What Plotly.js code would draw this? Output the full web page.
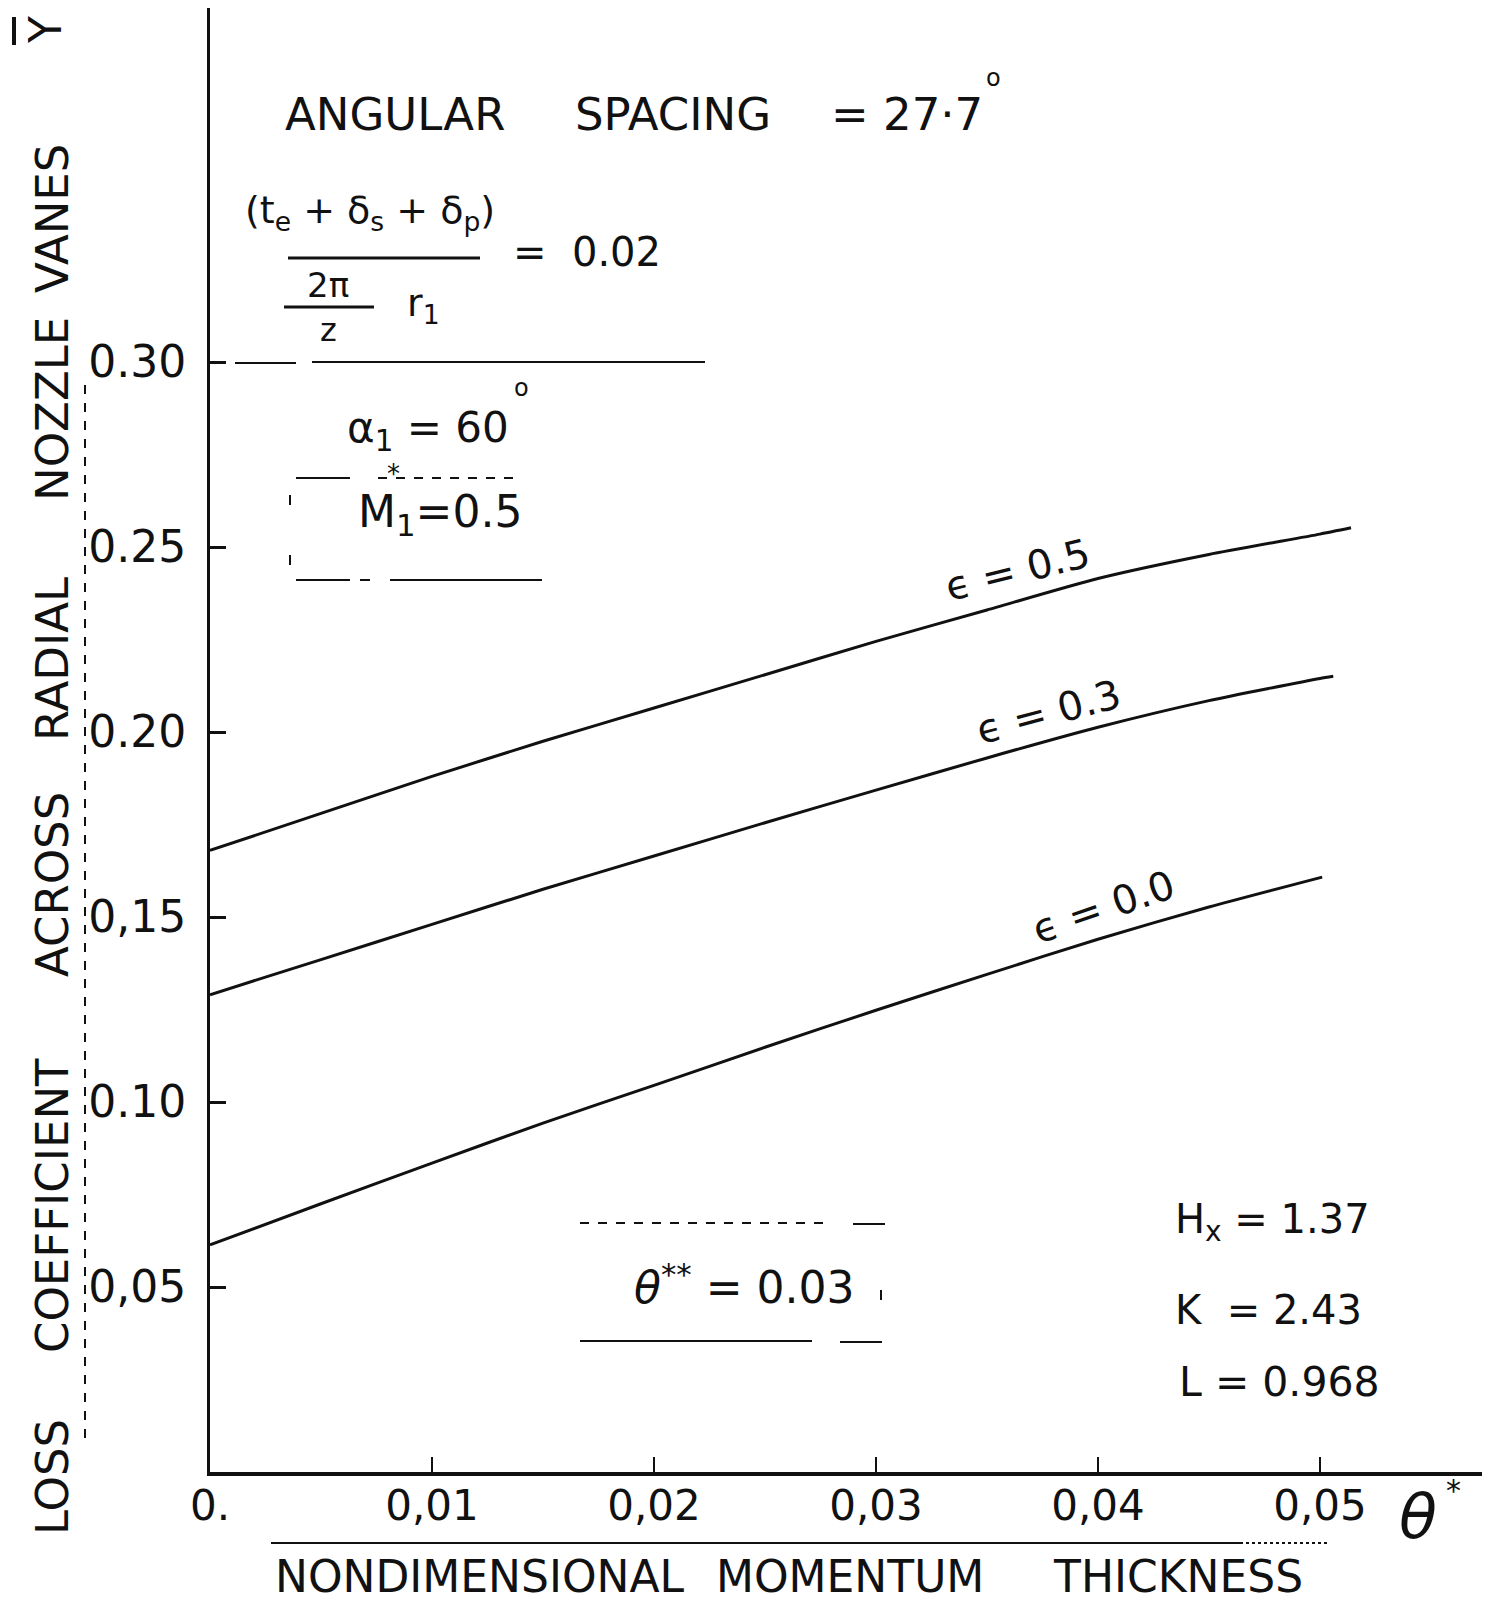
<!DOCTYPE html>
<html>
<head>
<meta charset="utf-8">
<script src="https://cdn.plot.ly/plotly-3.0.1.min.js"></script>
<style>
  html, body { margin: 0; padding: 0; background: #fff; }
  #chart { width: 1493px; height: 1602px; }
</style>
</head>
<body>
<div id="chart"></div>
<script>
// ---------------- data ----------------
const thetaX05 = [0, 0.005, 0.01, 0.015, 0.02, 0.025, 0.03, 0.035, 0.04, 0.045, 0.05, 0.0514];
const lossEps05 = [0.168, 0.178, 0.188, 0.1975, 0.2065, 0.2155, 0.2245, 0.233, 0.2415, 0.248, 0.2535, 0.2552];

const thetaX03 = [0, 0.005, 0.01, 0.015, 0.02, 0.025, 0.03, 0.035, 0.04, 0.045, 0.05, 0.0506];
const lossEps03 = [0.129, 0.1385, 0.148, 0.1575, 0.1665, 0.1755, 0.1843, 0.193, 0.2013, 0.2085, 0.2145, 0.2151];

const thetaX00 = [0, 0.005, 0.01, 0.015, 0.02, 0.025, 0.03, 0.035, 0.04, 0.045, 0.0501];
const lossEps00 = [0.0614, 0.0725, 0.0835, 0.0943, 0.1045, 0.1148, 0.1248, 0.1345, 0.1440, 0.1527, 0.1608];

const seriesLabels = ["\u03F5 = 0.5", "\u03F5 = 0.3", "\u03F5 = 0.0"];

const xTickVals = [0, 0.01, 0.02, 0.03, 0.04, 0.05];
const xTickText = ["0.", "0,01", "0,02", "0,03", "0,04", "0,05"];
const yTickVals = [0.05, 0.10, 0.15, 0.20, 0.25, 0.30];
const yTickText = ["0,05", "0.10", "0,15", "0.20", "0.25", "0.30"];

const yTitleWords = ["LOSS", "COEFFICIENT", "ACROSS", "RADIAL", "NOZZLE", "VANES"];
const xTitleWords = ["NONDIMENSIONAL", "MOMENTUM", "THICKNESS"];

// ---------------- layout helpers ----------------
const W = 1493, H = 1602;
const L = 210, R = 1482, T = 8, B = 1472;
const px = x => (x - L) / (R - L);
const py = y => (B - y) / (B - T);
const FONT = "DejaVu Sans, Liberation Sans, sans-serif";
const INK = "#111";

function ann(x, y, text, size, extra) {
  return Object.assign({
    xref: "paper", yref: "paper", x: px(x), y: py(y), text: text,
    showarrow: false, xanchor: "center", yanchor: "middle",
    font: { family: FONT, size: size, color: INK }
  }, extra || {});
}
function pline(x0, y0, x1, y1, w, dash) {
  return { type: "line", xref: "paper", yref: "paper",
    x0: px(x0), y0: py(y0), x1: px(x1), y1: py(y1),
    line: { color: INK, width: w || 2, dash: dash || "solid" } };
}

const lineStyle = { color: INK, width: 3, shape: "spline", smoothing: 0.6 };
const traces = [
  { x: thetaX05, y: lossEps05, name: seriesLabels[0], mode: "lines", line: lineStyle, hoverinfo: "skip" },
  { x: thetaX03, y: lossEps03, name: seriesLabels[1], mode: "lines", line: lineStyle, hoverinfo: "skip" },
  { x: thetaX00, y: lossEps00, name: seriesLabels[2], mode: "lines", line: lineStyle, hoverinfo: "skip" }
];

const yWordPos = [1477, 1206, 885, 659, 409, 219];
const xWordPos = [480, 850, 1178];

const annotations = [];
yTitleWords.forEach((w, i) => annotations.push(ann(52, yWordPos[i], w, 45, { textangle: -90 })));
annotations.push(ann(46, 30, "Y", 44, { textangle: -90 }));
xTitleWords.forEach((w, i) => annotations.push(ann(xWordPos[i], 1576, w, 44)));
annotations.push(ann(1418, 1516, "<i>\u03B8</i>", 62));
annotations.push(ann(1453, 1490, "*", 30));

// header
annotations.push(ann(395, 114, "ANGULAR", 45));
annotations.push(ann(673, 114, "SPACING", 45));
annotations.push(ann(907, 114, "= 27\u00B77", 45));
annotations.push(ann(993, 78, "o", 24));
// fraction
annotations.push(ann(370, 212, "(t<sub>e</sub> + \u03B4<sub>s</sub> + \u03B4<sub>p</sub>)", 38));
annotations.push(ann(328, 285, "2\u03C0", 34));
annotations.push(ann(328, 330, "z", 32));
annotations.push(ann(423, 305, "r<sub>1</sub>", 38));
annotations.push(ann(587, 252, "=  0.02", 40));
// alpha, Mach
annotations.push(ann(428, 431, "\u03B1<sub>1</sub> = 60", 42));
annotations.push(ann(521, 388, "o", 24));
annotations.push(ann(440, 514, "M<sub>1</sub>=0.5", 44));
annotations.push(ann(393, 474, "*", 26));
// epsilon labels
annotations.push(ann(1017, 570, seriesLabels[0], 40, { textangle: -14 }));
annotations.push(ann(1048, 712, seriesLabels[1], 40, { textangle: -15 }));
annotations.push(ann(1103, 907, seriesLabels[2], 40, { textangle: -19 }));
// theta**
annotations.push(ann(744, 1284, "<i>\u03B8</i><sup>**</sup> = 0.03", 44));
// H, K, L
annotations.push(ann(1173, 1222, "H<sub>x</sub> = 1.37", 40, { xanchor: "left" }));
annotations.push(ann(1173, 1310, "K  = 2.43", 40, { xanchor: "left" }));
annotations.push(ann(1177, 1382, "L = 0.968", 41, { xanchor: "left" }));

const shapes = [
  // Y overbar
  pline(14, 17, 14, 45, 4),
  // x-title overline
  pline(271, 1543, 1240, 1543, 2),
  pline(1240, 1543, 1328, 1543, 2, "dot"),
  // left dotted ruling
  pline(85, 385, 85, 1441, 2, "dash"),
  // main fraction bar
  pline(288, 258, 480, 258, 3),
  pline(284, 307, 374, 307, 3),
  // 0.30 dashed reference line
  pline(235, 363, 296, 363, 2),
  pline(312, 362, 705, 362, 2),
  // M1 box
  pline(296, 478, 350, 478, 2),
  pline(378, 478, 521, 478, 2, "dash"),
  pline(296, 580, 350, 580, 2),
  pline(360, 580, 370, 580, 2),
  pline(390, 580, 542, 580, 2),
  pline(290, 495, 290, 505, 2),
  pline(290, 555, 290, 565, 2),
  // theta** box
  pline(580, 1223, 823, 1223, 2, "dash"),
  pline(853, 1224, 885, 1224, 2),
  pline(580, 1341, 812, 1341, 2),
  pline(840, 1342, 882, 1342, 2),
  pline(881, 1290, 881, 1300, 2)
];

const layout = {
  width: W, height: H,
  margin: { l: L, r: W - R, t: T, b: H - B, pad: 0 },
  paper_bgcolor: "#fff", plot_bgcolor: "#fff",
  showlegend: false,
  font: { family: FONT, color: INK },
  xaxis: {
    range: [0, 0.0573], showgrid: false, zeroline: false,
    showline: true, linecolor: INK, linewidth: 4,
    ticks: "inside", ticklen: 15, tickwidth: 2, tickcolor: INK,
    tickvals: xTickVals, ticktext: xTickText,
    tickfont: { family: FONT, size: 42, color: INK },
    ticklabelstandoff: -6
  },
  yaxis: {
    range: [0, 0.3957], showgrid: false, zeroline: false,
    showline: true, linecolor: INK, linewidth: 3,
    ticks: "inside", ticklen: 16, tickwidth: 3, tickcolor: INK,
    tickvals: yTickVals, ticktext: yTickText,
    tickfont: { family: FONT, size: 44, color: INK },
    ticklabelstandoff: 12
  },
  annotations: annotations,
  shapes: shapes
};

Plotly.newPlot("chart", traces, layout, { staticPlot: true, displayModeBar: false });
</script>
</body>
</html>
